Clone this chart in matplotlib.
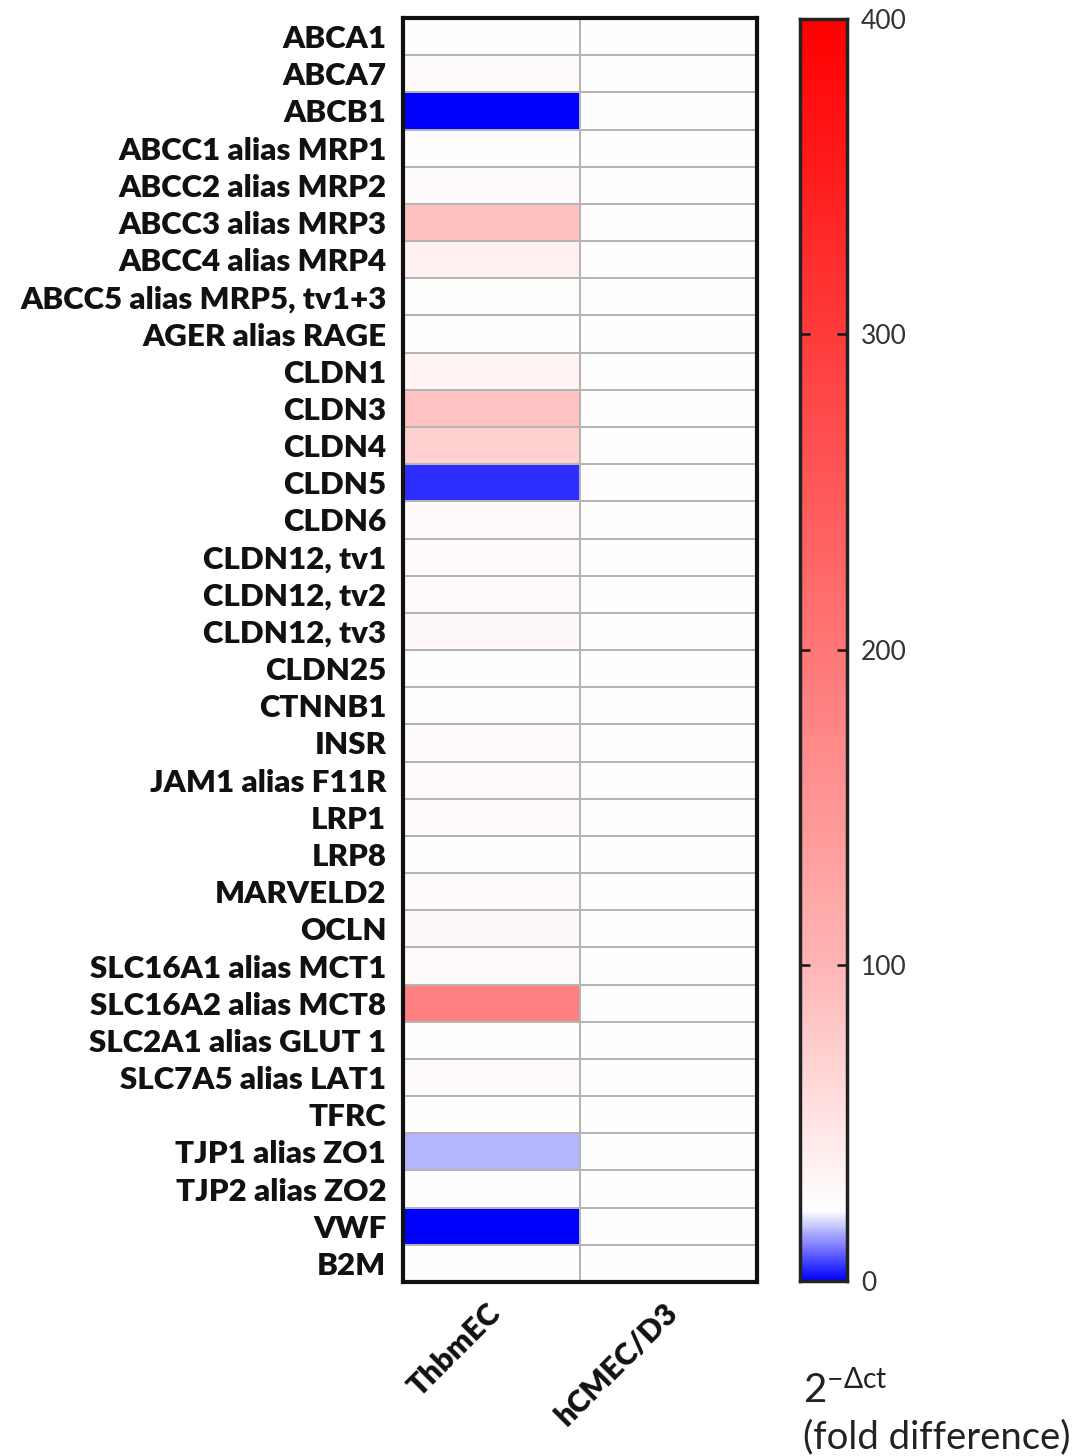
import numpy as np
import matplotlib
matplotlib.use('Agg')
import matplotlib.pyplot as plt
from matplotlib.colors import LinearSegmentedColormap, Normalize

genes = [
    'ABCA1', 'ABCA7', 'ABCB1', 'ABCC1 alias MRP1', 'ABCC2 alias MRP2',
    'ABCC3 alias MRP3', 'ABCC4 alias MRP4', 'ABCC5 alias MRP5, tv1+3',
    'AGER alias RAGE', 'CLDN1', 'CLDN3', 'CLDN4', 'CLDN5', 'CLDN6',
    'CLDN12, tv1', 'CLDN12, tv2', 'CLDN12, tv3', 'CLDN25', 'CTNNB1', 'INSR',
    'JAM1 alias F11R', 'LRP1', 'LRP8', 'MARVELD2', 'OCLN',
    'SLC16A1 alias MCT1', 'SLC16A2 alias MCT8', 'SLC2A1 alias GLUT 1',
    'SLC7A5 alias LAT1', 'TFRC', 'TJP1 alias ZO1', 'TJP2 alias ZO2', 'VWF', 'B2M',
]
cell_lines = ['ThbmEC', 'hCMEC/D3']

# 2^-dct fold difference per gene
thbmec = [22, 27, 0, 23, 26, 88, 38, 25, 22, 35, 86, 72, 4, 26,
          28, 28, 30, 23, 25, 26, 28, 28, 23, 26, 29, 27, 185, 23,
          26, 23, 16, 22, 0, 22]
hcmec = [22] * len(genes)

cbar_ticks = [0, 100, 200, 300, 400]
vmin, vmax = 0, 400

# blue -> white around 22 -> red at 400
cmap = LinearSegmentedColormap.from_list('bwr_fold', [
    (0.0, '#0000ff'),
    (0.055, '#ffffff'),
    (0.25, '#ffb5b5'),
    (0.5, '#ff7777'),
    (1.0, '#ff0000'),
], N=1024)
norm = Normalize(vmin=vmin, vmax=vmax)

plt.rcParams['font.family'] = ['Lato', 'DejaVu Sans']

fig = plt.figure(figsize=(10.78, 14.56), dpi=100)
ax = fig.add_axes([0.3738, 0.1195, 0.3284, 0.8681])

data = np.array([thbmec, hcmec]).T
ax.pcolormesh(np.arange(len(cell_lines) + 1), np.arange(len(genes) + 1), data,
              cmap=cmap, norm=norm, edgecolors='#b4b4b4', linewidth=1.2)
ax.set_xlim(0, len(cell_lines))
ax.set_ylim(len(genes), 0)

ax.set_yticks(np.arange(len(genes)) + 0.5)
ax.set_yticklabels(genes, fontsize=22.5, fontweight='heavy', color='#111111')
ax.set_xticks(np.arange(len(cell_lines)) + 0.47)
ax.set_xticklabels(cell_lines, fontsize=22, fontweight='heavy', color='#111111',
                   rotation=45, ha='right', va='top', rotation_mode='anchor')
ax.tick_params(axis='x', length=0, pad=12)
ax.tick_params(axis='y', length=0, pad=12)
for s in ax.spines.values():
    s.set_linewidth(3)
    s.set_color('#111111')

cax = fig.add_axes([0.7421, 0.1202, 0.0436, 0.8668])
grad = np.linspace(vmin, vmax, 2000).reshape(-1, 1)
cax.imshow(grad, aspect='auto', cmap=cmap, norm=norm, origin='lower',
           extent=[0, 1, vmin, vmax], interpolation='bilinear')
cax.set_xticks([])
cax.yaxis.tick_right()
cax.set_yticks(cbar_ticks)
cax.set_yticklabels([str(t) for t in cbar_ticks], fontsize=19, color='#333333')
cax.tick_params(axis='y', direction='in', length=7, width=1.8, pad=10,
                left=True, right=True, color='#111111')
for s in cax.spines.values():
    s.set_linewidth(2.5)
    s.set_color('#222222')

fig.text(0.745, 0.045, r'$\mathregular{2^{-\Delta ct}}$', fontsize=29,
         color='#222222', ha='left', va='center')
fig.text(0.745, 0.013, '(fold difference)', fontsize=27.5, color='#222222',
         ha='left', va='center')

fig.savefig('out.png', dpi=100)
